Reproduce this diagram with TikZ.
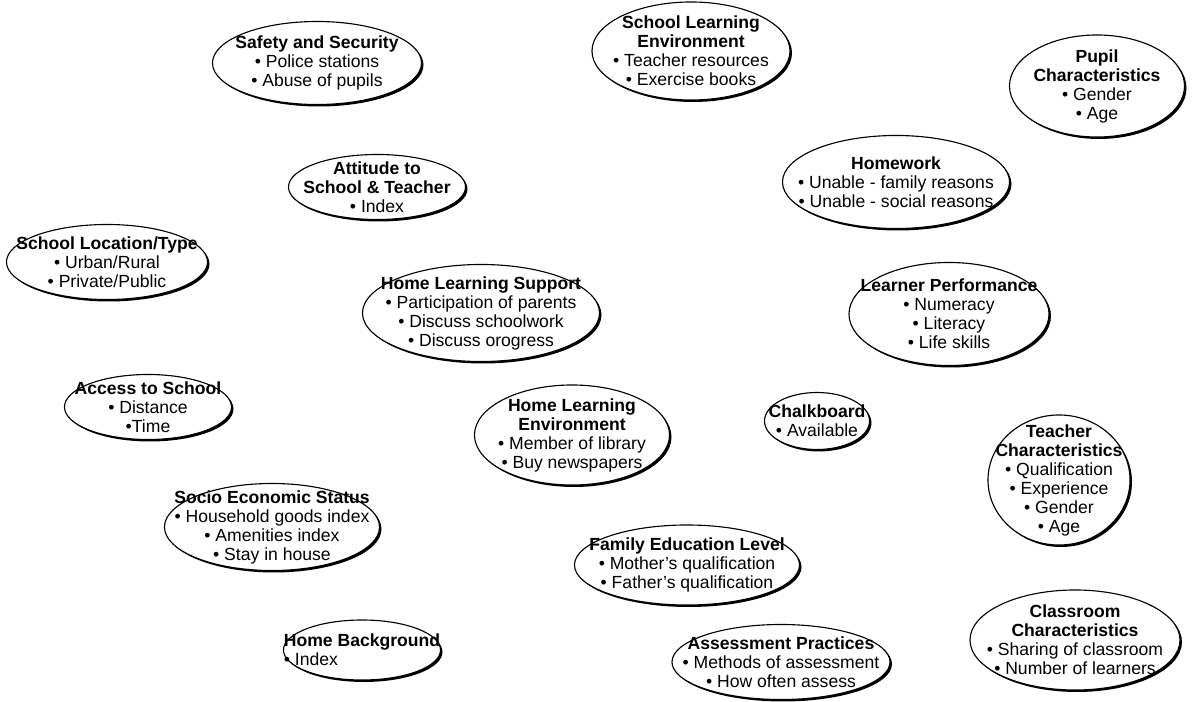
\documentclass[tikz,border=0pt]{standalone}
\usepackage{fontspec}
\setmainfont{Liberation Sans}
\usetikzlibrary{shapes.geometric,shadows}
\tikzset{
  oval/.style={ellipse,draw,fill=white,line width=0.8pt,inner sep=-3cm,align=center,
    font=\fontsize{12.5}{13.5}\selectfont,
    drop shadow={shadow xshift=1.4pt,shadow yshift=-1.4pt,fill=black,opacity=1}},
}
\begin{document}
\begin{tikzpicture}[x=0.025cm,y=-0.025cm]
    \useasboundingbox (0,0) rectangle (1203,702);
    % top row
    \node[oval,minimum width=5.225cm,minimum height=2.075cm] (safety) at (317,63)
      {\textbf{Safety and Security}\\• Police stations\\• Abuse of pupils};
    \node[oval,minimum width=4.95cm,minimum height=2.45cm] (schoolenv) at (691,51)
      {\textbf{School Learning}\\\textbf{Environment}\\• Teacher resources\\• Exercise books};
    \node[oval,minimum width=4.375cm,minimum height=2.55cm] (pupil) at (1097,86)
      {\textbf{Pupil}\\\textbf{Characteristics}\\• Gender\\• Age};
    \node[oval,minimum width=4.425cm,minimum height=1.625cm] (attitude) at (377,187)
      {\textbf{Attitude to}\\\textbf{School \& Teacher}\\• Index};
    \node[oval,minimum width=5.675cm,minimum height=2.325cm] (homework) at (896,182)
      {\textbf{Homework}\\• Unable - family reasons\\• Unable - social reasons};
    % middle
    \node[oval,minimum width=5.025cm,minimum height=1.875cm] (location) at (107,262)
      {\textbf{School Location/Type}\\• Urban/Rural\\• Private/Public};
    \node[oval,minimum width=5.925cm,minimum height=2.425cm] (support) at (481,313)
      {\textbf{Home Learning Support}\\• Participation of parents\\• Discuss schoolwork\\• Discuss orogress};
    \node[oval,minimum width=5.0cm,minimum height=2.575cm] (performance) at (949,314)
      {\textbf{Learner Performance}\\• Numeracy\\• Literacy\\• Life skills};
    \node[oval,minimum width=4.175cm,minimum height=1.625cm] (access) at (148,407)
      {\textbf{Access to School}\\• Distance\\•Time};
    \node[oval,minimum width=4.875cm,minimum height=2.5cm] (homeenv) at (572,435)
      {\textbf{Home Learning}\\\textbf{Environment}\\• Member of library\\• Buy newspapers};
    \node[oval,minimum width=2.625cm,minimum height=1.425cm] (chalk) at (817,421)
      {\textbf{Chalkboard}\\• Available};
    \node[oval,minimum width=3.55cm,minimum height=3.25cm] (teacher) at (1059,480)
      {\textbf{Teacher}\\\textbf{Characteristics}\\• Qualification\\• Experience\\• Gender\\• Age};
    % bottom
    \node[oval,minimum width=5.375cm,minimum height=2.175cm] (ses) at (272,527)
      {\textbf{Socio Economic Status}\\• Household goods index\\• Amenities index\\• Stay in house};
    \node[oval,minimum width=5.625cm,minimum height=2.0cm] (family) at (687,565)
      {\textbf{Family Education Level}\\• Mother's qualification\\• Father's qualification};
    \node[oval,minimum width=3.925cm,minimum height=1.5cm,align=left] (background) at (362,650)
      {\textbf{Home Background}\\• Index};
    \node[oval,minimum width=5.45cm,minimum height=1.875cm] (assess) at (781,662)
      {\textbf{Assessment Practices}\\• Methods of assessment\\• How often assess};
    \node[oval,minimum width=5.25cm,minimum height=2.5cm] (classroom) at (1075,640)
      {\textbf{Classroom}\\\textbf{Characteristics}\\• Sharing of classroom\\• Number of learners};
\end{tikzpicture}
\end{document}
